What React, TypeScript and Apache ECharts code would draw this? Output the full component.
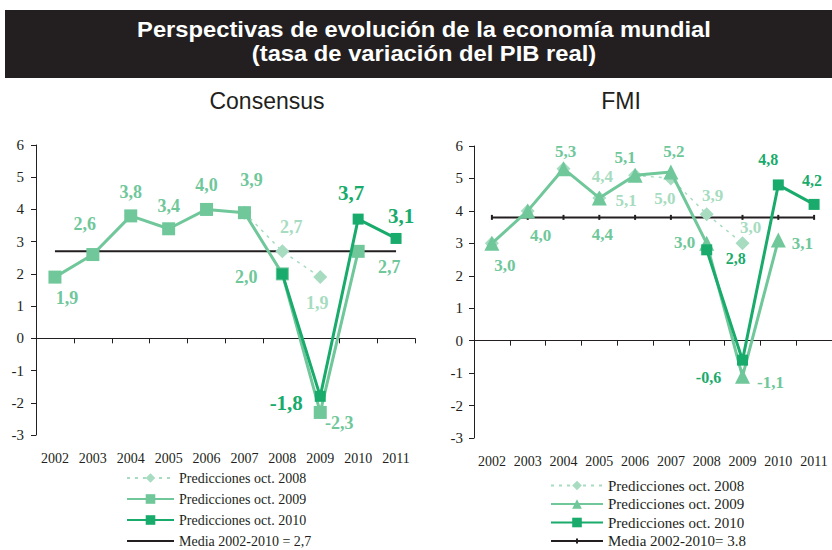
import React, { useEffect, useRef } from 'react';
import * as echarts from 'echarts';

const years = ['2002', '2003', '2004', '2005', '2006', '2007', '2008', '2009', '2010', '2011'];

const consensusOct2008 = [null, null, null, null, null, 3.9, 2.7, 1.9, null, null];
const consensusOct2009 = [1.9, 2.6, 3.8, 3.4, 4.0, 3.9, 2.0, -2.3, 2.7, null];
const consensusOct2010 = [null, null, null, null, null, null, 2.0, -1.8, 3.7, 3.1];
const consensusMean = 2.7;

const fmiOct2008 = [3.0, 4.0, 5.3, 4.4, 5.1, 5.0, 3.9, 3.0, null, null];
const fmiOct2009 = [3.0, 4.0, 5.3, 4.4, 5.1, 5.2, 3.0, -1.1, 3.1, null];
const fmiOct2010 = [null, null, null, null, null, null, 2.8, -0.6, 4.8, 4.2];
const fmiMean = 3.8;

const yMin = -3;
const yMax = 6;

const seriesNames = ['Predicciones oct. 2008', 'Predicciones oct. 2009', 'Predicciones oct. 2010'];
const consensusMeanName = 'Media 2002-2010 = 2,7';
const fmiMeanName = 'Media 2002-2010= 3.8';

const titleLine1 = 'Perspectivas de evolución de la economía mundial';
const titleLine2 = '(tasa de variación del PIB real)';

const C2008 = '#a7dcc0';
const C2009 = '#6fc79a';
const C2010 = '#19ab6b';
const DARK = '#231f20';
const SERIF = '"Liberation Serif", "DejaVu Serif", serif';
const SANS = '"Liberation Sans", Arial, sans-serif';

const fmt = (v: number) => v.toFixed(1).replace('.', ',');

type Off = Record<number, [number, number]>;

function items(values: (number | null)[], offsets: Off, color: string, fontSize: number) {
  return values.map((v, i) => {
    if (v === null) return '-';
    const o = offsets[i];
    return {
      value: v,
      label: o
        ? {
            show: true,
            position: 'inside',
            offset: o,
            formatter: () => fmt(v),
            color,
            fontFamily: SERIF,
            fontWeight: 'bold',
            fontSize,
          }
        : { show: false },
    };
  });
}

function buildPanel(cfg: {
  gridLeft: number;
  gridTop: number;
  gridWidth: number;
  gridHeight: number;
  yLabelMargin: number;
  d2008: (number | null)[];
  d2009: (number | null)[];
  d2010: (number | null)[];
  mean: number;
  meanName: string;
  meanIcon: string;
  o2008: Off;
  o2009: Off;
  o2010: Off;
  sym2009: string;
  size2009: number;
  size2010: number;
  lightFont: number;
  darkFont: number;
  meanSymbol: boolean;
  legendLeft: number;
  legendTop: number;
  legendItemWidth: number;
  legendGap: number;
  legendFont: number;
}) {
  return {
    animation: false,
    grid: {
      left: cfg.gridLeft,
      top: cfg.gridTop,
      width: cfg.gridWidth,
      height: cfg.gridHeight,
      containLabel: false,
    },
    legend: {
      orient: 'vertical',
      left: cfg.legendLeft,
      top: cfg.legendTop,
      width: 300,
      height: 120,
      padding: 0,
      itemWidth: cfg.legendItemWidth,
      itemHeight: 12,
      itemGap: cfg.legendGap,
      selectedMode: false,
      data: [...seriesNames, { name: cfg.meanName, icon: cfg.meanIcon }],
      textStyle: { fontFamily: SERIF, fontSize: cfg.legendFont, lineHeight: 12, color: DARK },
    },
    xAxis: [
      {
        type: 'category',
        data: years,
        position: 'bottom',
        axisLine: { show: false, onZero: false },
        axisTick: { show: false },
        axisLabel: { interval: 0, margin: 16, fontFamily: SERIF, fontSize: 14, color: DARK },
      },
      {
        type: 'category',
        data: years,
        position: 'top',
        axisLine: { show: true, onZero: true, lineStyle: { color: DARK, width: 1 } },
        axisTick: { show: true, inside: true, length: 5, lineStyle: { color: DARK } },
        axisLabel: { show: false },
      },
    ],
    yAxis: {
      type: 'value',
      min: yMin,
      max: yMax,
      interval: 1,
      axisLine: { show: true, lineStyle: { color: DARK, width: 1 } },
      axisTick: { show: true, length: 5, lineStyle: { color: DARK } },
      splitLine: { show: false },
      axisLabel: { margin: cfg.yLabelMargin, fontFamily: SERIF, fontSize: 15, color: DARK },
    },
    series: [
      {
        name: cfg.meanName,
        type: 'line',
        xAxisIndex: 0,
        data: years.map(() => cfg.mean),
        symbol: cfg.meanSymbol ? 'rect' : 'none',
        symbolSize: [2, 5],
        itemStyle: { color: DARK },
        lineStyle: { color: DARK, width: 2 },
        label: { show: false },
        z: 1,
      },
      {
        name: seriesNames[0],
        type: 'line',
        xAxisIndex: 0,
        data: items(cfg.d2008, cfg.o2008, C2008, cfg.lightFont),
        symbol: 'diamond',
        symbolSize: 14,
        itemStyle: { color: C2008 },
        lineStyle: { color: C2008, width: 1.5, type: [3, 5] },
        z: 2,
      },
      {
        name: seriesNames[1],
        type: 'line',
        xAxisIndex: 0,
        data: items(cfg.d2009, cfg.o2009, C2009, cfg.lightFont),
        symbol: cfg.sym2009,
        symbolSize: cfg.size2009,
        itemStyle: { color: C2009 },
        lineStyle: { color: C2009, width: 3 },
        z: 3,
      },
      {
        name: seriesNames[2],
        type: 'line',
        xAxisIndex: 0,
        data: items(cfg.d2010, cfg.o2010, C2010, cfg.darkFont),
        symbol: 'rect',
        symbolSize: cfg.size2010,
        itemStyle: { color: C2010 },
        lineStyle: { color: C2010, width: 3 },
        z: 4,
      },
    ],
  };
}

export default function App() {
  const leftRef = useRef<HTMLDivElement>(null);
  const rightRef = useRef<HTMLDivElement>(null);

  useEffect(() => {
    document.body.style.margin = '0';
    const left = echarts.init(leftRef.current!, null, { renderer: 'svg' });
    const right = echarts.init(rightRef.current!, null, { renderer: 'svg' });

    const leftOpt: any = buildPanel({
      gridLeft: 36,
      gridTop: 145,
      gridWidth: 379,
      gridHeight: 290,
      yLabelMargin: 12,
      d2008: consensusOct2008,
      d2009: consensusOct2009,
      d2010: consensusOct2010,
      mean: consensusMean,
      meanName: consensusMeanName,
      meanIcon: 'path://M0,5H47V7H0Z M0,0H0.01V0.01H0Z M0,12H0.01V12.01H0Z',
      o2008: { 6: [9, -24], 7: [-3, 26] },
      o2009: { 0: [12, 21], 1: [-8, -31], 2: [0, -24], 3: [0, -23], 4: [0, -24], 5: [7, -33], 6: [-36, 3], 7: [19, 11], 8: [31, 16] },
      o2010: { 7: [-34, 7], 8: [-7, -26], 9: [5, -22] },
      sym2009: 'rect',
      size2009: 13,
      size2010: 11,
      lightFont: 18,
      darkFont: 21,
      meanSymbol: false,
      legendLeft: 126,
      legendTop: 471,
      legendItemWidth: 47,
      legendGap: 7,
      legendFont: 14,
    });
    leftOpt.graphic = [
      { type: 'rect', shape: { x: 5, y: 10, width: 827, height: 68 }, style: { fill: DARK } },
      {
        type: 'text',
        x: 424,
        y: 29,
        scaleX: 1.08,
        style: { text: titleLine1, fill: '#ffffff', font: `bold 22px ${SANS}`, textAlign: 'center', textVerticalAlign: 'middle' },
      },
      {
        type: 'text',
        x: 424,
        y: 53,
        scaleX: 1.08,
        style: { text: titleLine2, fill: '#ffffff', font: `bold 22px ${SANS}`, textAlign: 'center', textVerticalAlign: 'middle' },
      },
      {
        type: 'text',
        x: 267,
        y: 101,
        style: { text: 'Consensus', fill: DARK, font: `23px ${SANS}`, textAlign: 'center', textVerticalAlign: 'middle' },
      },
      {
        type: 'text',
        x: 621,
        y: 101,
        style: { text: 'FMI', fill: DARK, font: `23px ${SANS}`, textAlign: 'center', textVerticalAlign: 'middle' },
      },
    ];

    const rightOpt: any = buildPanel({
      gridLeft: 474,
      gridTop: 146,
      gridWidth: 364,
      gridHeight: 292,
      yLabelMargin: 11,
      d2008: fmiOct2008,
      d2009: fmiOct2009,
      d2010: fmiOct2010,
      mean: fmiMean,
      meanName: fmiMeanName,
      meanIcon: 'path://M0,5H52V7H0Z M25,3.5H27V8.5H25Z M0,0H0.01V0.01H0Z M0,12H0.01V12.01H0Z',
      o2008: { 3: [3, -21], 4: [-9, 25], 5: [-6, 20], 6: [6, -19], 7: [8, -16] },
      o2009: { 0: [13, 22], 1: [13, 25], 2: [2, -17], 3: [3, 37], 4: [-10, -18], 5: [3, -20], 6: [-22, -1], 7: [28, 6], 8: [24, 3] },
      o2010: { 6: [29, 9], 7: [-34, 17], 8: [-10, -25], 9: [-2, -24] },
      sym2009: 'triangle',
      size2009: 15,
      size2010: 11,
      lightFont: 17,
      darkFont: 16,
      meanSymbol: true,
      legendLeft: 550,
      legendTop: 478,
      legendItemWidth: 52,
      legendGap: 3.5,
      legendFont: 15,
    });

    left.setOption(leftOpt);
    right.setOption(rightOpt);
    return () => {
      left.dispose();
      right.dispose();
    };
  }, []);

  return (
    <div style={{ position: 'fixed', left: 0, top: 0, width: 832, height: 550, background: '#ffffff', overflow: 'hidden' }}>
      <div ref={leftRef} style={{ position: 'absolute', left: 0, top: 0, width: 832, height: 550 }} />
      <div ref={rightRef} style={{ position: 'absolute', left: 0, top: 0, width: 832, height: 550 }} />
    </div>
  );
}
